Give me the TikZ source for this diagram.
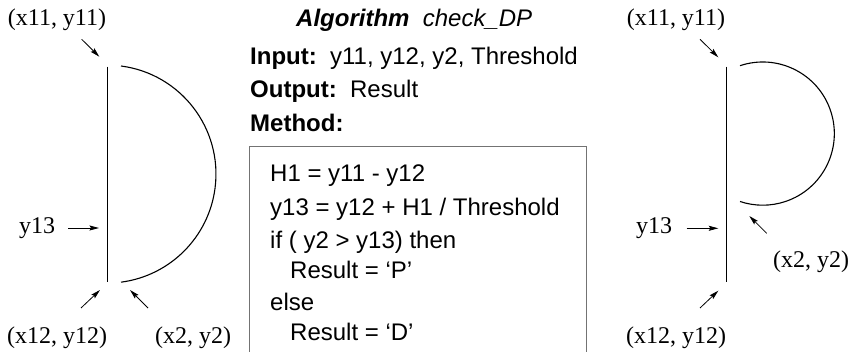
\documentclass[tikz,border=0pt]{standalone}
\usepackage{fontspec}
\setmainfont{Liberation Serif}
\setsansfont{Liberation Sans}
\usetikzlibrary{arrows.meta}
\tikzset{
  ptr/.style={-{Stealth[length=9.5pt,width=5pt,inset=1.5pt]}, line width=0.8pt},
  curve/.style={line width=1.1pt},
  lbl/.style={font=\fontsize{24}{26}\selectfont, inner sep=0pt},
  algo/.style={font=\sffamily\fontsize{24}{26}\selectfont, inner sep=0pt, anchor=base west},
}
\begin{document}
\begin{tikzpicture}[x=1pt,y=1pt]
\useasboundingbox (0,0) rectangle (853,-352);

% ---------- left figure: full half circle ----------
\coordinate (L11) at (107.7,-66.7);
\coordinate (L12) at (107.7,-281.7);
\coordinate (Ltop) at (121,-66);
\coordinate (L13) at (99,-228);
\draw[curve] (L11) -- (L12);
\draw[curve] (Ltop) arc[start angle=82.6, end angle=-82.6, radius=109];

\node[lbl] (la) at (57,-20) {(x11, y11)};
\coordinate (las) at (81.7,-39.3);
\coordinate (lae) at (99.3,-56.7);
\draw[ptr] (las) -- (lae);

\node[lbl] (lb) at (37,-228) {y13};
\coordinate (lbs) at (68,-228);
\draw[ptr] (lbs) -- (L13);

\node[lbl] (lc) at (57,-338) {(x12, y12)};
\coordinate (lcs) at (81,-308);
\coordinate (lce) at (100,-290);
\draw[ptr] (lcs) -- (lce);

\node[lbl] (ld) at (193,-338) {(x2, y2)};
\coordinate (lds) at (148,-308);
\coordinate (lde) at (130,-290);
\draw[ptr] (lds) -- (lde);

% ---------- right figure: small loop ----------
\coordinate (R11) at (726.7,-66.7);
\coordinate (R12) at (726.7,-281.7);
\coordinate (Rtop) at (740,-65.7);
\draw[curve] (R11) -- (R12);
\draw[curve] (Rtop) arc[start angle=108.5, end angle=-108.5, radius=71.6];

\node[lbl] (ra) at (676,-20) {(x11, y11)};
\coordinate (ras) at (700,-39.3);
\coordinate (rae) at (718.3,-57.3);
\draw[ptr] (ras) -- (rae);

\node[lbl] (rb) at (654,-228) {y13};
\coordinate (rbs) at (686.7,-228.3);
\coordinate (rbe) at (718.3,-228.3);
\draw[ptr] (rbs) -- (rbe);

\node[lbl] (rd) at (811,-262) {(x2, y2)};
\coordinate (rds) at (766.7,-233.3);
\coordinate (rde) at (749.3,-216);
\draw[ptr] (rds) -- (rde);

\node[lbl] (rc) at (676,-338) {(x12, y12)};
\coordinate (rcs) at (700,-308);
\coordinate (rce) at (718.3,-290.7);
\draw[ptr] (rcs) -- (rce);

% ---------- algorithm ----------
\node[algo] (title) at (296,-27)
  {\textbf{\textit{Algorithm}}\ \ \textit{check\_DP}};
\node[algo] (inp) at (250,-65) {\textbf{Input:}\ \ y11, y12, y2, Threshold};
\node[algo] (outp) at (250,-98) {\textbf{Output:}\ \ Result};
\node[algo] (meth) at (250,-132) {\textbf{Method:}};

\draw[black!55, line width=1pt] (249,-360) -- (249,-147) -- (586,-147) -- (586,-360);

\node[algo] (s1) at (270,-182) {H1 = y11 - y12};
\node[algo] (s2) at (270,-216) {y13 = y12 + H1 / Threshold};
\node[algo] (s3) at (270,-249) {if ( y2 > y13) then};
\node[algo] (s4) at (290,-279) {Result = ‘P’};
\node[algo] (s5) at (270,-310) {else};
\node[algo] (s6) at (290,-340) {Result = ‘D’};
\end{tikzpicture}
\end{document}
